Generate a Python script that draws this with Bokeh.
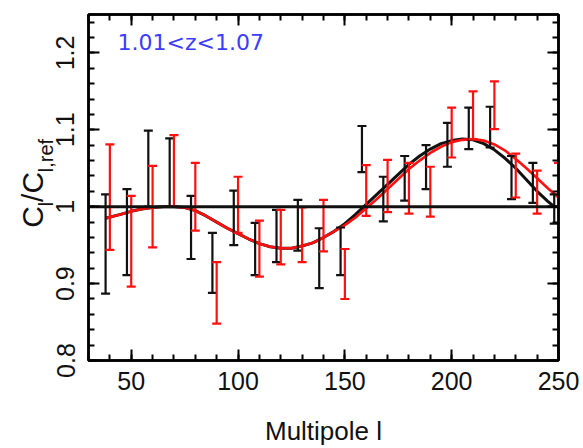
import numpy as np
from bokeh.plotting import figure
from bokeh.models import (ColumnDataSource, Whisker, TeeHead, Span, Label, Range1d,
                          LinearAxis, SingleIntervalTicker, FixedTicker, CustomJSTickFormatter)
from bokeh.embed import file_html
from bokeh.resources import INLINE

# ---------------- data ----------------
black_l = [38, 48, 58, 68, 78, 88, 98, 108, 118, 128, 138, 148, 158, 168, 178, 188, 198, 208, 218, 228, 238, 248]
black_low = [0.887, 0.911, 1.000, 1.000, 0.932, 0.888, 0.950, 0.911, 0.928, 0.943, 0.894,
             0.911, 1.045, 0.981, 1.008, 1.023, 1.052, 1.075, 1.077, 1.010, 1.005, 0.978]
black_high = [1.016, 1.023, 1.099, 1.089, 1.014, 0.966, 1.021, 0.979, 0.996, 1.009, 0.972,
              0.973, 1.105, 1.039, 1.066, 1.080, 1.109, 1.129, 1.130, 1.066, 1.057, 1.016]

red_l = [40, 50, 60, 70, 80, 90, 100, 110, 120, 130, 140, 150, 160, 170, 180, 190, 200, 210, 220, 230, 240, 250]
red_low = [0.944, 0.896, 0.947, 1.000, 0.969, 0.848, 0.966, 0.909, 0.925, 0.928, 0.942,
           0.880, 0.988, 0.993, 0.991, 0.987, 1.064, 1.088, 1.101, 1.012, 0.991, 1.000]
red_high = [1.081, 1.014, 1.053, 1.093, 1.057, 0.928, 1.039, 0.982, 0.996, 0.999, 1.009,
            0.945, 1.054, 1.061, 1.057, 1.052, 1.129, 1.150, 1.163, 1.069, 1.047, 1.057]

black_curve_l = [38, 45, 50, 55, 60, 65, 70, 75, 80, 85, 90, 95, 100, 105, 110, 115, 120, 125,
                 130, 135, 140, 145, 150, 155, 160, 165, 170, 175, 180, 185, 190, 195, 200, 205,
                 210, 215, 220, 225, 230, 235, 240, 245, 248]
black_curve = [0.985, 0.990, 0.994, 0.997, 0.999, 1.000, 1.000, 0.999, 0.995, 0.988, 0.980, 0.972,
               0.965, 0.958, 0.952, 0.948, 0.946, 0.946, 0.949, 0.953, 0.960, 0.968, 0.978, 0.990,
               1.003, 1.016, 1.029, 1.042, 1.055, 1.066, 1.075, 1.082, 1.086, 1.088, 1.087, 1.082,
               1.074, 1.063, 1.050, 1.035, 1.020, 1.007, 1.000]

red_curve_l = [38, 45, 50, 55, 60, 65, 70, 75, 80, 85, 90, 95, 100, 105, 110, 115, 120, 125,
               130, 135, 140, 145, 150, 155, 160, 165, 170, 175, 180, 185, 190, 195, 200, 205,
               210, 215, 220, 225, 230, 235, 240, 245, 250]
red_curve = [0.985, 0.990, 0.994, 0.997, 0.999, 1.000, 1.000, 0.999, 0.995, 0.988, 0.980, 0.972,
             0.965, 0.958, 0.952, 0.948, 0.946, 0.946, 0.949, 0.953, 0.960, 0.968, 0.976, 0.986,
             0.998, 1.010, 1.023, 1.036, 1.049, 1.060, 1.070, 1.078, 1.084, 1.087, 1.088, 1.086,
             1.081, 1.073, 1.062, 1.050, 1.037, 1.024, 1.012]

reference_level = 1.0
z_label = "1.01<z<1.07"
x_title = "Multipole l"
y_title_parts = [("C", False), ("l", True), ("/C", False), ("l,ref", True)]

# ---------------- layout ----------------
W, H = 583, 448
FL, FR, FT, FB = 88, 558, 14, 363   # frame in page pixels
X0, X1 = 30, 250
Y0, Y1 = 0.8, 1.25
FONT = "Liberation Sans"
INK = "#111111"
RED = "#ff1010"


def px2x(px):
    return X0 + (px - FL) / (FR - FL) * (X1 - X0)


def py2y(py):
    return Y0 + (FB - py) / (FB - FT) * (Y1 - Y0)


p = figure(width=W, height=H, x_range=Range1d(X0, X1), y_range=Range1d(Y0, Y1),
           output_backend="svg", toolbar_location=None,
           min_border_left=FL, min_border_right=W - FR,
           min_border_top=FT, min_border_bottom=H - FB)
p.grid.visible = False
p.background_fill_color = "white"
p.border_fill_color = "white"
p.outline_line_color = "black"
p.outline_line_width = 2.5


def style_axis(ax, show_labels):
    ax.axis_line_color = "black"
    ax.axis_line_width = 2.5
    ax.major_tick_line_color = "black"
    ax.minor_tick_line_color = "black"
    ax.major_tick_line_width = 2
    ax.minor_tick_line_width = 2
    ax.major_tick_in = 11
    ax.major_tick_out = 0
    ax.minor_tick_in = 6
    ax.minor_tick_out = 0
    if not show_labels:
        ax.formatter = CustomJSTickFormatter(code="return ''")
        ax.major_label_standoff = 0
    else:
        ax.major_label_text_font = FONT
        ax.major_label_text_font_size = "25px"
        ax.major_label_text_color = INK


xa = p.xaxis[0]
xa.ticker = SingleIntervalTicker(interval=50, num_minor_ticks=5)
style_axis(xa, True)
xa.major_label_standoff = 11
xa.axis_label = x_title
xa.axis_label_text_font = FONT
xa.axis_label_text_font_size = "26px"
xa.axis_label_text_font_style = "normal"
xa.axis_label_text_color = INK
xa.axis_label_standoff = 23

ya = p.yaxis[0]
ya.ticker = SingleIntervalTicker(interval=0.1, num_minor_ticks=5)
style_axis(ya, True)
ya.formatter = CustomJSTickFormatter(code="return String(Math.round(tick*10)/10)")
ya.major_label_orientation = "vertical"
ya.major_label_standoff = 14

top = LinearAxis(ticker=SingleIntervalTicker(interval=50, num_minor_ticks=5))
style_axis(top, False)
p.add_layout(top, "above")
right = LinearAxis(ticker=SingleIntervalTicker(interval=0.1, num_minor_ticks=5))
style_axis(right, False)
p.add_layout(right, "right")

# ---------------- y title: pieces placed as labels of two bare left axes ----------------
adv = {"C": 0.722, "l": 0.222, "/": 0.278, ",": 0.278, "r": 0.333, "e": 0.556, "f": 0.278}
start_py = 229.0
main_ticks, main_texts, sub_ticks, sub_texts = [], [], [], []
for txt, sub in y_title_parts:
    size = 20 if sub else 30
    width = sum(adv[c] for c in txt) * size
    centre = py2y(start_py - width / 2)
    if sub:
        sub_ticks.append(centre)
        sub_texts.append(txt)
    else:
        main_ticks.append(centre)
        main_texts.append(txt)
    start_py -= width


def title_axis(ticks, texts, size, standoff):
    order = np.argsort(ticks)
    ticks = [float(ticks[i]) for i in order]
    texts = [texts[i] for i in order]
    ax = LinearAxis(ticker=FixedTicker(ticks=ticks, minor_ticks=[]),
                    formatter=CustomJSTickFormatter(args=dict(labels=texts),
                                                    code="return labels[index]"))
    ax.axis_line_color = None
    ax.major_tick_line_color = None
    ax.minor_tick_line_color = None
    ax.major_tick_in = 0
    ax.major_tick_out = 0
    ax.minor_tick_in = 0
    ax.minor_tick_out = 0
    ax.major_label_orientation = "vertical"
    ax.major_label_text_font = FONT
    ax.major_label_text_font_size = f"{size}px"
    ax.major_label_text_color = INK
    ax.major_label_standoff = standoff
    return ax


p.add_layout(title_axis(sub_ticks, sub_texts, 20, -4), "left")
p.add_layout(title_axis(main_ticks, main_texts, 30, -17), "left")

# ---------------- marks ----------------
bsrc = ColumnDataSource(dict(l=black_l, lo=black_low, hi=black_high))
rsrc = ColumnDataSource(dict(l=red_l, lo=red_low, hi=red_high))

for src, col in ((bsrc, INK), (rsrc, RED)):
    w = Whisker(source=src, base="l", lower="lo", upper="hi",
                line_color=col, line_width=2.2, level="glyph",
                upper_head=TeeHead(size=9, line_color=col, line_width=2.2),
                lower_head=TeeHead(size=9, line_color=col, line_width=2.2))
    p.add_layout(w)

p.add_layout(Span(location=reference_level, dimension="width", line_color=INK,
                  line_width=3, level="glyph"))

p.line(black_curve_l, black_curve, line_color=INK, line_width=3)
p.line(red_curve_l, red_curve, line_color=RED, line_width=2.6)

p.add_layout(Label(x=px2x(117), y=py2y(42.7), text=z_label, text_font="DejaVu Sans",
                   text_font_size="22px", text_color="#3c3cff",
                   text_align="left", text_baseline="alphabetic"))

open("out.html", "w").write(file_html(p, INLINE))
